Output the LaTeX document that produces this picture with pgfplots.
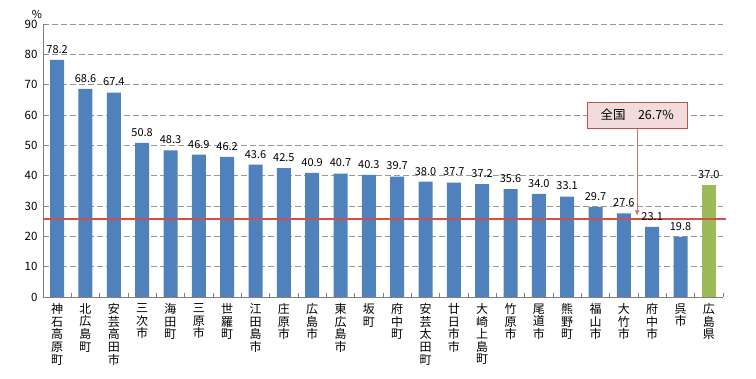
\documentclass[border=0pt]{standalone}
\usepackage{pgfplots}
\pgfplotsset{compat=1.18}
\usetikzlibrary{arrows.meta}
\usepackage{fontspec}
\setmainfont{Noto Sans CJK JP}
\definecolor{barblue}{HTML}{4F81BD}
\definecolor{bargreen}{HTML}{9BBB59}
\definecolor{natred}{HTML}{C0504D}
\definecolor{linered}{HTML}{D0504D}
\definecolor{boxfill}{HTML}{F2DCDB}
\pgfplotstableread{
x y
-0.5 25.7
23.6 25.7
}\natline
\begin{document}
\begin{tikzpicture}
\path[use as bounding box] (0,0) rectangle (756pt,379pt);
\begin{axis}[
  at={(43pt,82pt)}, anchor=south west,
  scale only axis, width=680pt, height=273pt,
  xmin=-0.5, xmax=23.5, ymin=0, ymax=90,
  ytick={0,10,...,90},
  xtick={0,...,23},
  xticklabels={{神\\石\\高\\原\\町},{北\\広\\島\\町},{安\\芸\\高\\田\\市},{三\\次\\市},{海\\田\\町},{三\\原\\市},{世\\羅\\町},{江\\田\\島\\市},{庄\\原\\市},{広\\島\\市},{東\\広\\島\\市},{坂\\町},{府\\中\\町},{安\\芸\\太\\田\\町},{廿\\日\\市\\市},{大\\崎\\上\\島\\町},{竹\\原\\市},{尾\\道\\市},{熊\\野\\町},{福\\山\\市},{大\\竹\\市},{府\\中\\市},{呉\\市},{広\\島\\県}},
  xticklabel style={align=center, anchor=north, yshift=-3pt, font=\fontsize{12}{12.6}\selectfont},
  x tick style={draw=none},
  minor xtick={-0.5,0.5,...,23.5},
  minor x tick style={draw=gray, thin},
  minor tick length=4pt,
  tick align=inside,
  y tick style={draw=gray, thin},
  yticklabel style={font=\fontsize{11.5}{12}\selectfont, xshift=-2pt},
  /pgf/number format/assume math mode=true,
  axis x line*=bottom, axis y line*=left,
  axis line style={gray, line width=0.8pt},
  ymajorgrids, grid style={gray!80, dash pattern=on 6pt off 3pt},
  clip=false,
]
\addplot[ybar, bar width=14pt, fill=barblue, draw=none,
  nodes near coords,
  nodes near coords style={font=\fontsize{11}{12}\selectfont, yshift=3pt, /pgf/number format/.cd, fixed, fixed zerofill, precision=1, assume math mode=true},
] coordinates {
(0,78.2) (1,68.6) (2,67.4) (3,50.8) (4,48.3) (5,46.9) (6,46.2) (7,43.6)
(8,42.5) (9,40.9) (10,40.7) (11,40.3) (12,39.7) (13,38.0) (14,37.7) (15,37.2)
(16,35.6) (17,34.0) (18,33.1) (19,29.7) (20,27.6) (21,23.1) (22,19.8)};
\addplot[ybar, bar width=14pt, fill=bargreen, draw=none,
  nodes near coords,
  nodes near coords style={font=\fontsize{11}{12}\selectfont, yshift=3pt, /pgf/number format/.cd, fixed, fixed zerofill, precision=1, assume math mode=true},
] coordinates {(23,37.0)};
\addplot[color=linered, line width=1.1pt, mark=none] table[x=x,y=y] {\natline};
\draw[natred!80, line width=0.8pt, -{Latex[length=5pt,width=5pt]}] (axis cs:20.47,55.7) -- (axis cs:20.47,26.9);
\node[draw=natred, fill=boxfill, line width=0.8pt, minimum width=100pt, minimum height=26pt, font=\fontsize{12.5}{13}\selectfont] at (axis cs:20.47,60.0) {全国\quad 26.7\%};
\node[font=\fontsize{11}{12}\selectfont] at ([xshift=-6pt,yshift=10pt]rel axis cs:0,1) {\%};
\end{axis}
\end{tikzpicture}
\end{document}
